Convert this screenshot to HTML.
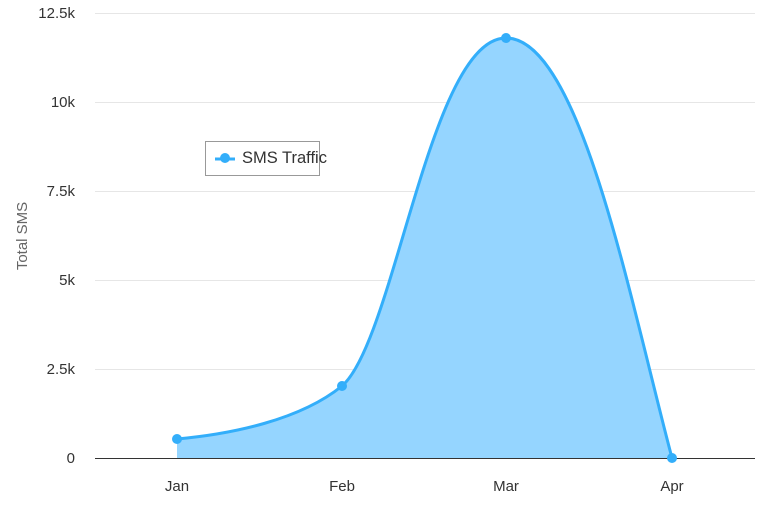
<!DOCTYPE html>
<html><head><style>
body{margin:0;background:#fff;}
svg{display:block;font-family:"Liberation Sans",sans-serif;}
</style></head><body>
<svg width="768" height="512" viewBox="0 0 768 512">
<g stroke="#e6e6e6" stroke-width="1">
<line x1="95" y1="13.5" x2="755" y2="13.5"/>
<line x1="95" y1="102.5" x2="755" y2="102.5"/>
<line x1="95" y1="191.5" x2="755" y2="191.5"/>
<line x1="95" y1="280.5" x2="755" y2="280.5"/>
<line x1="95" y1="369.5" x2="755" y2="369.5"/>
</g>
<g font-size="15" fill="#333" text-anchor="end">
<text x="75" y="18">12.5k</text>
<text x="75" y="107">10k</text>
<text x="75" y="196">7.5k</text>
<text x="75" y="285">5k</text>
<text x="75" y="374">2.5k</text>
<text x="75" y="463">0</text>
</g>
<text transform="translate(27,236) rotate(-90)" font-size="15" fill="#666" text-anchor="middle">Total SMS</text>
<path d="M177,439 C232,434 300,420 342,386 C395,340 430,38 506,38 C580,38 630,300 672,458 L177,458 Z" fill="#95d5ff"/>
<path d="M177,439 C232,434 300,420 342,386 C395,340 430,38 506,38 C580,38 630,300 672,458" fill="none" stroke="#33aefa" stroke-width="3"/>
<line x1="95" y1="458.5" x2="755" y2="458.5" stroke="#333" stroke-width="1"/>
<g fill="#33aefa">
<circle cx="177" cy="439" r="5"/><circle cx="342" cy="386" r="5"/>
<circle cx="506" cy="38" r="5"/><circle cx="672" cy="458" r="5"/>
</g>
<g font-size="15" fill="#333" text-anchor="middle">
<text x="177" y="491">Jan</text><text x="342" y="491">Feb</text>
<text x="506" y="491">Mar</text><text x="672" y="491">Apr</text>
</g>
<rect x="205.5" y="141.5" width="114" height="34" fill="#fff" stroke="#999" stroke-width="1"/>
<line x1="215" y1="159" x2="235" y2="159" stroke="#33aefa" stroke-width="3"/>
<circle cx="225" cy="158" r="5" fill="#33aefa"/>
<text x="242" y="163" font-size="16.5" fill="#333">SMS Traffic</text>
</svg>
</body></html>
